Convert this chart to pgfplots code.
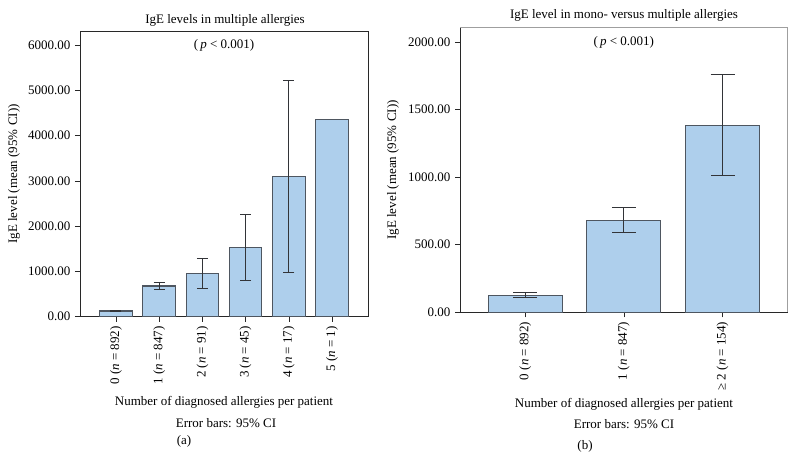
\documentclass[border=0pt]{standalone}
\usepackage{fontspec}
\setmainfont{Liberation Serif}
\usepackage{pgfplots}
\pgfplotsset{compat=1.18}
\definecolor{barfill}{RGB}{174,207,236}
\definecolor{baredge}{RGB}{78,86,96}
\definecolor{axisc}{RGB}{40,40,40}
\definecolor{errc}{RGB}{50,52,56}
\newcommand\f{\fontsize{13bp}{15bp}\selectfont}
\begin{document}
\f
\begin{tikzpicture}
\path[use as bounding box] (0,0) rectangle (797bp,472bp);
\pgfplotsset{
  mybase/.style={
    scale only axis, anchor=south west,
    axis line style={axisc, line width=0.9pt},
    ybar, bar width=0.75, bar shift=0pt, ymin=0,
    tick align=outside, tick pos=left, major tick length=5bp,
    tick style={axisc, line width=0.7pt},
    xtick={0,1,2,3,4,5},
    x tick label style={rotate=90, anchor=east, font=\f},
    y tick label style={font=\f},
    /pgf/number format/fixed,
    /pgf/number format/fixed zerofill,
    /pgf/number format/precision=2,
    /pgf/number format/1000 sep={},
    /pgf/number format/assume math mode=true,
    clip=false,
  },
  barsty/.style={fill=barfill, draw=baredge, line width=1.1pt},
}
% ---------------- (a) ----------------
\begin{axis}[mybase,
  at={(80bp,155.3bp)}, width=288bp, height=285.7bp,
  xmin=-0.83, xmax=5.83, ymax=6310,
  ytick={0,1000,2000,3000,4000,5000,6000},
  xticklabels={{0 (\textit{n} = 892)},{1 (\textit{n} = 847)},{2 (\textit{n} = 91)},{3 (\textit{n} = 45)},{4 (\textit{n} = 17)},{5 (\textit{n} = 1)}},
]
\addplot[barsty, error bars/.cd, y dir=both, y explicit,
  error bar style={errc, line width=1pt},
  error mark options={rotate=90, mark size=5.5bp, line width=1pt, errc}]
  coordinates {
  (0,126) += (0,17) -= (0,15)
  (1,678) += (0,87) -= (0,88)
  (2,953) += (0,327) -= (0,339)
  (3,1523) += (0,739) -= (0,728)
  (4,3104) += (0,2122) -= (0,2120)
  };
\addplot[barsty] coordinates {(5,4361)};
\node at (rel axis cs:0.5,0.951) {(\,\textit{p} < 0.001)};
\end{axis}
% ---------------- (b) ----------------
\begin{axis}[mybase,
  at={(460bp,159.7bp)}, width=327.7bp, height=284.6bp,
  axis x line*=bottom, axis y line*=left, axis line style={-},
  xmin=-0.66, xmax=2.66, ymax=2106,
  xtick={0,1,2},
  ytick={0,500,1000,1500,2000},
  xticklabels={{0 (\textit{n} = 892)},{1 (\textit{n} = 847)},{≥ 2 (\textit{n} = 154)}},
]
\addplot[barsty, error bars/.cd, y dir=both, y explicit,
  error bar style={errc, line width=1pt},
  error mark options={rotate=90, mark size=12bp, line width=1pt, errc}]
  coordinates {
  (0,126) += (0,17) -= (0,15)
  (1,681) += (0,91) -= (0,91)
  (2,1385) += (0,371) -= (0,370)
  };
\draw[gray!75, line width=0.9pt] (rel axis cs:0,1) -- (rel axis cs:1,1) -- (rel axis cs:1,0);
\node at (rel axis cs:0.5,0.95) {(\,\textit{p} < 0.001)};
\end{axis}
% ---------------- texts ----------------
\node at (225bp,452bp) {IgE levels in multiple allergies};
\node at (624bp,457bp) {IgE level in mono- versus multiple allergies};
\node[rotate=90] at (14bp,298bp) {IgE level (mean (95\% CI))};
\node[rotate=90] at (393bp,302bp) {IgE level (mean (95\% CI))};
\node at (224bp,69.3bp) {Number of diagnosed allergies per patient};
\node at (226bp,49.3bp) {Error bars: 95\% CI};
\node at (184bp,30.3bp) {(a)};
\node at (624bp,68bp) {Number of diagnosed allergies per patient};
\node at (624bp,48bp) {Error bars: 95\% CI};
\node at (585bp,26bp) {(b)};
\end{tikzpicture}
\end{document}
